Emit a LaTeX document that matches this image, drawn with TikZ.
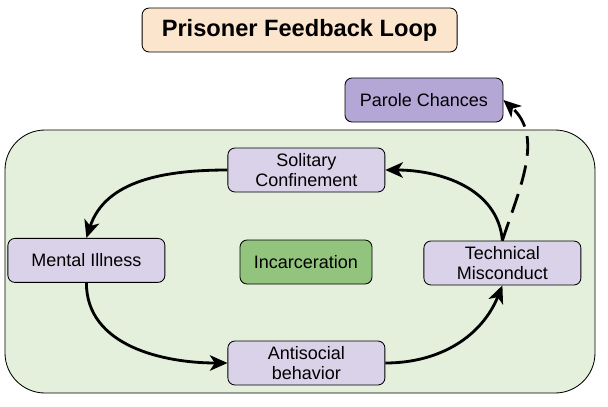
\documentclass[tikz,border=0pt]{standalone}
\usepackage{fontspec}
\setmainfont{Liberation Sans}
\usetikzlibrary{arrows.meta}

\definecolor{titlefill}{HTML}{FCE5CD}
\definecolor{loopfill}{HTML}{E4EFDC}
\definecolor{parolefill}{HTML}{B4A7D6}
\definecolor{stagefill}{HTML}{D9D2E9}
\definecolor{centerfill}{HTML}{93C47D}

\tikzset{
    stage/.style={
        draw=black,
        fill=stagefill,
        rounded corners=5pt,
        line width=0.6pt,
        minimum width=3.925cm,
        minimum height=1.1cm,
        align=center,
        font=\fontsize{12.8}{14.5}\selectfont
    },
    flow/.style={
        line width=2pt,
        -{Stealth[length=12.5pt, width=11pt, inset=3.5pt]}
    }
}

\begin{document}
\begin{tikzpicture}
        \useasboundingbox (0, 0) rectangle (15.2, -10.15);
        % background loop
        \draw[fill=loopfill, rounded corners=1cm, line width=0.6pt] (0.125, -3.25) rectangle (14.875, -9.825);
        \node (title) at (7.49, -0.75) [
            draw=black,
            fill=titlefill,
            rounded corners=5pt,
            line width=0.6pt,
            minimum width=7.875cm,
            minimum height=1.1cm,
            font=\fontsize{16.8}{18}\selectfont\bfseries
        ] {Prisoner Feedback Loop};
        \node (parole) at (10.6, -2.5) [stage, fill=parolefill, minimum width=3.95cm] {Parole Chances};
        \node (solitary) at (7.66, -4.25) [stage] {Solitary\\Confinement};
        \node (mental) at (2.16, -6.51) [stage] {Mental Illness};
        \node (incarceration) at (7.65, -6.55) [stage, fill=centerfill, minimum width=3.3cm] {Incarceration};
        \node (technical) at (12.56, -6.575) [stage] {Technical\\Misconduct};
        \node (antisocial) at (7.66, -9.075) [stage] {Antisocial\\behavior};
        % the loop
        \draw[flow] (solitary.west) to[out=180, in=72] (mental.north);
        \draw[flow] (mental.south) to[out=-90, in=180] (antisocial.west);
        \draw[flow] (antisocial.east) to[out=0, in=-112] (technical.south);
        \draw[flow] (technical.north) to[out=95, in=0] (solitary.east);
        \draw[flow, dash pattern=on 14pt off 7pt] (technical.north) to[out=72, in=-42] (parole.east);
    \end{tikzpicture}
\end{document}
